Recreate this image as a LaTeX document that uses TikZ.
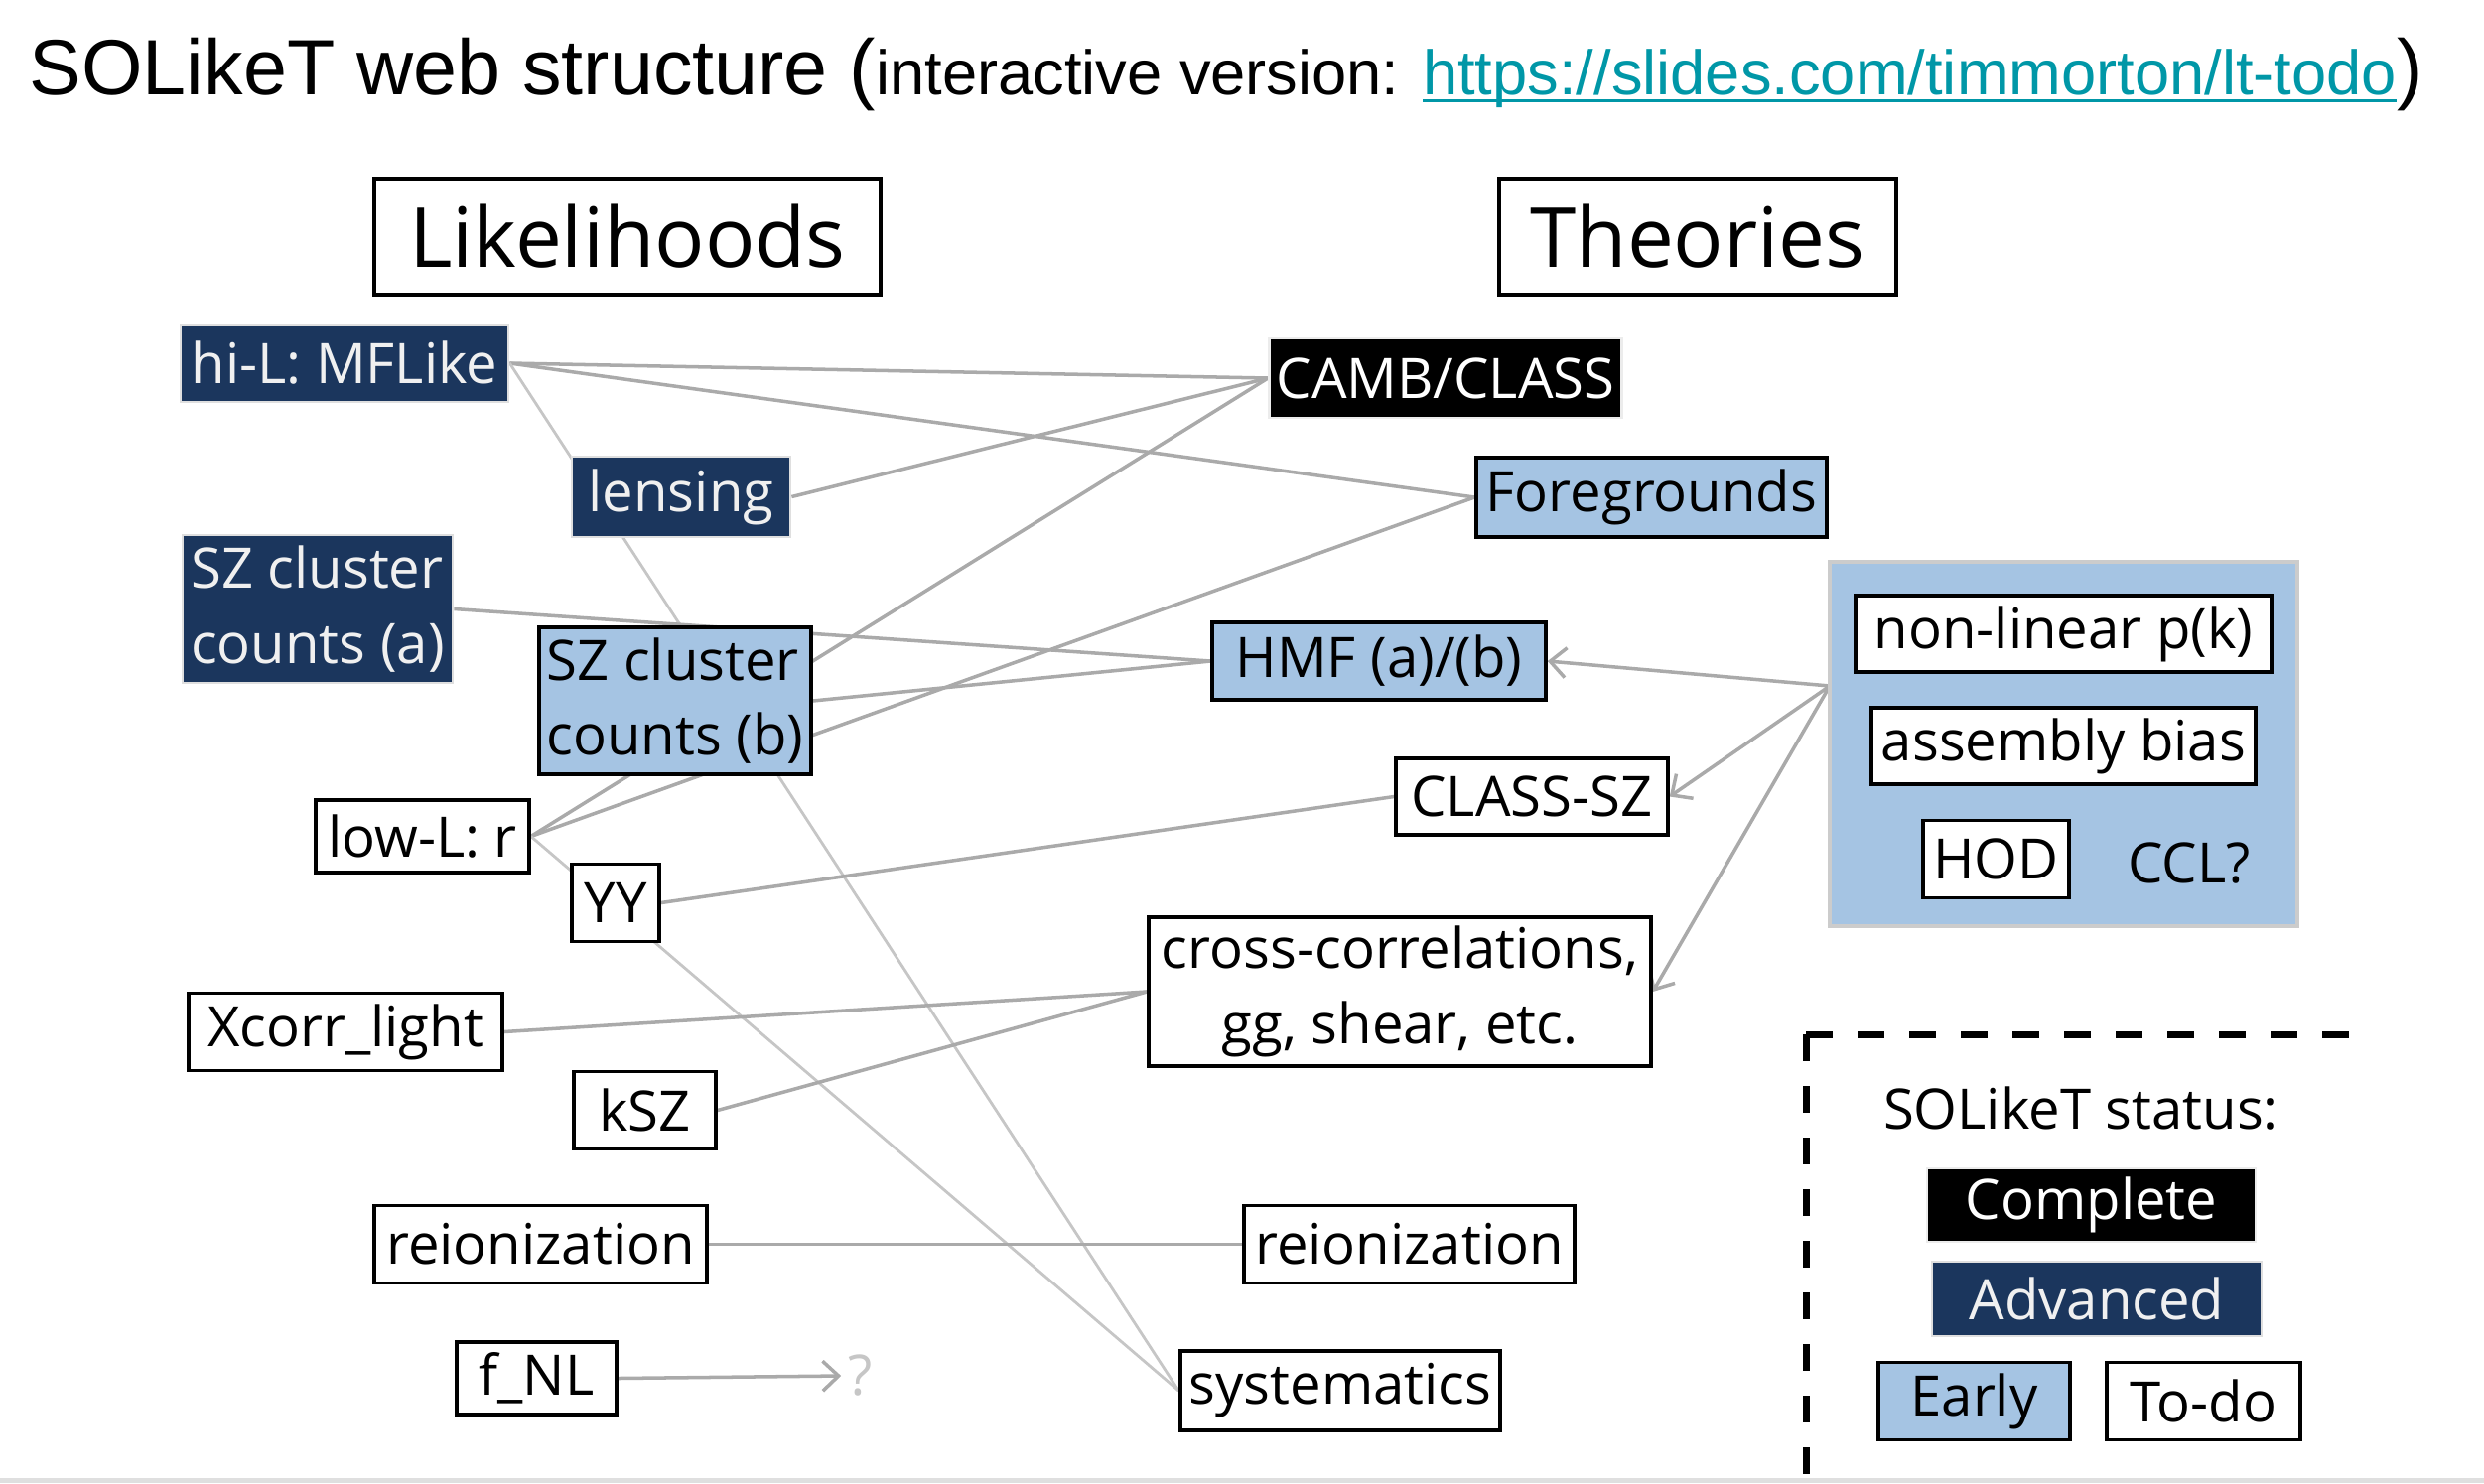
\documentclass[tikz,border=0pt]{standalone}
\usepackage{fontspec}
\setmainfont{Open Sans}
\newfontfamily\titlefont{Liberation Sans}
\usepackage{tikz}
\usetikzlibrary{arrows.meta,positioning,backgrounds}
\usepackage{xcolor}
\definecolor{NavyBox}{RGB}{27,54,93}
\definecolor{SoftBlue}{RGB}{165,196,227}
\definecolor{WireGray}{RGB}{170,170,170}
\definecolor{FaintGray}{RGB}{198,198,198}
\definecolor{LinkTeal}{RGB}{0,151,167}
\newcommand{\ulink}[1]{\setbox0\hbox{#1}\rlap{\rule[-0.13em]{\wd0}{0.05em}}\box0}
\tikzset{
  status/.style={rectangle, minimum height=0.78cm, inner sep=2pt,
    font=\fontsize{16}{21.5}\selectfont, align=center},
  complete/.style={status, fill=black, draw=gray!15, text=white, line width=0.8pt},
  advanced/.style={status, fill=NavyBox, draw=gray!25, text=white!94!black,
    line width=0.8pt},
  early/.style={status, fill=SoftBlue, draw=black, line width=1pt},
  todo/.style={status, fill=white, draw=black, line width=1pt},
  header/.style={draw=black, line width=1.2pt, fill=white, minimum height=1.17cm,
    font=\fontsize{23.8}{28}\selectfont},
  wire/.style={WireGray, line width=1pt},
  faint/.style={FaintGray, line width=0.8pt},
  feed/.style={wire, -{Straight Barb[length=1.6mm,width=3mm]}},
  legendframe/.style={black, line width=2pt, dash pattern=on 0.27cm off 0.25cm}
}

\begin{document}
\begin{tikzpicture}
  \useasboundingbox (0,0) rectangle (25.02,-14.94);
  \fill[gray!25] (0,-14.89) rectangle (25.02,-14.94);

  \node[anchor=base west, inner sep=0] (title) at (0.29,-0.95)
    {\titlefont\fontsize{22.5}{27}\selectfont SOLikeT web structure
     (\fontsize{18}{22}\selectfont interactive version:
     \textcolor{LinkTeal}{\ulink{https://slides.com/timmorton/lt-todo}}\fontsize{22.5}{27}\selectfont)};

  \node[header, minimum width=5.10cm] (lik) at (6.32,-2.385) {Likelihoods};
  \node[header, minimum width=4.00cm] (theo) at (17.10,-2.385) {Theories};

  \node[advanced, minimum width=3.30cm] (hil) at (3.47,-3.66) {hi-L: MFLike};
  \node[advanced, minimum width=2.20cm, minimum height=0.81cm] (lens) at (6.86,-5.005) {lensing};
  \node[advanced, minimum width=2.72cm, minimum height=1.49cm, align=left] (sza) at (3.20,-6.135) {SZ cluster\\counts (a)};
  \node[early, minimum width=2.74cm, minimum height=1.48cm, align=left] (szb) at (6.80,-7.06) {SZ cluster\\counts (b)};
  \node[todo, minimum width=2.15cm, minimum height=0.73cm] (lowl) at (4.255,-8.425) {low-L: r};
  \node[todo, minimum width=0.88cm] (yy) at (6.20,-9.095) {YY};
  \node[todo, minimum width=3.16cm] (xcorr) at (3.48,-10.395) {Xcorr\_light};
  \node[todo, minimum width=1.43cm] (ksz) at (6.495,-11.185) {kSZ};
  \node[todo, minimum width=3.35cm] (reionl) at (5.445,-12.535) {reionization};
  \node[todo, minimum width=1.61cm, minimum height=0.73cm] (fnl) at (5.405,-13.885) {f\_NL};
  \node[status, text=FaintGray] (qmark) at (8.67,-13.86) {?};

  \node[complete, minimum width=3.52cm, minimum height=0.80cm] (camb) at (14.56,-3.81) {CAMB/CLASS};
  \node[early, minimum width=3.53cm, minimum height=0.80cm] (fg) at (16.635,-5.01) {Foregrounds};
  \node[early, minimum width=3.36cm] (hmf) at (13.89,-6.66) {HMF (a)/(b)};
  \node[todo, minimum width=2.74cm, minimum height=0.77cm] (classsz) at (15.43,-8.025) {CLASS-SZ};
  \node[todo, minimum width=5.06cm, minimum height=1.50cm] (cc) at (14.10,-9.99) {cross-correlations,\\gg, shear, etc.};
  \node[todo, minimum width=3.33cm] (reiont) at (14.195,-12.535) {reionization};
  \node[todo, minimum width=3.22cm, minimum height=0.80cm] (sys) at (13.50,-14.01) {systematics};

  \node[draw=gray!40, line width=1.3pt, fill=SoftBlue, minimum width=4.71cm, minimum height=3.67cm] (halo) at (20.785,-7.495) {};
  \node[todo, minimum width=4.19cm, minimum height=0.77cm] (nlpk) at (20.785,-6.385) {non-linear p(k)};
  \node[todo, minimum width=3.87cm, minimum height=0.77cm] (ab) at (20.785,-7.515) {assembly bias};
  \node[todo, minimum width=1.47cm] (hod) at (20.105,-8.655) {HOD};
  \node[status] (ccl) at (22.05,-8.70) {CCL?};
  \coordinate (hub) at (18.43,-6.91);

  \draw[legendframe] (18.19,-10.42) -- (18.19,-14.85) (18.19,-10.42) -- (23.73,-10.42);
  \node[status] (legtitle) at (20.96,-11.17) {SOLikeT status:};
  \node[complete, minimum width=3.31cm, minimum height=0.74cm] (lgc) at (21.065,-12.14) {Complete};
  \node[advanced, minimum width=3.32cm, minimum height=0.75cm] (lga) at (21.12,-13.085) {Advanced};
  \node[early, minimum width=1.93cm] (lge) at (19.885,-14.115) {Early};
  \node[todo, minimum width=1.95cm] (lgt) at (22.195,-14.115) {To-do};

  \begin{scope}[on background layer]
    \draw[wire] (hil.east) -- (camb.west);
    \draw[wire] (hil.east) -- (fg.west);
    \draw[faint] (hil.east) -- (sys.west);
    \draw[wire] (lens.east) -- (camb.west);
    \draw[wire] (sza.east) -- (hmf.west);
    \draw[wire] (szb.east) -- (hmf.west);
    \draw[wire] (lowl.east) -- (camb.west);
    \draw[wire] (lowl.east) -- (fg.west);
    \draw[faint] (lowl.east) -- (sys.west);
    \draw[wire] (yy.east) -- (classsz.west);
    \draw[wire] (xcorr.east) -- (cc.west);
    \draw[wire] (ksz.east) -- (cc.west);
    \draw[wire] (reionl) -- (reiont);
    \draw[feed] (fnl.east) -- (qmark.west);
    \draw[feed] (hub) -- (hmf.east);
    \draw[feed] (hub) -- (classsz.east);
    \draw[feed] (hub) -- (cc.east);
  \end{scope}
\end{tikzpicture}
\end{document}
